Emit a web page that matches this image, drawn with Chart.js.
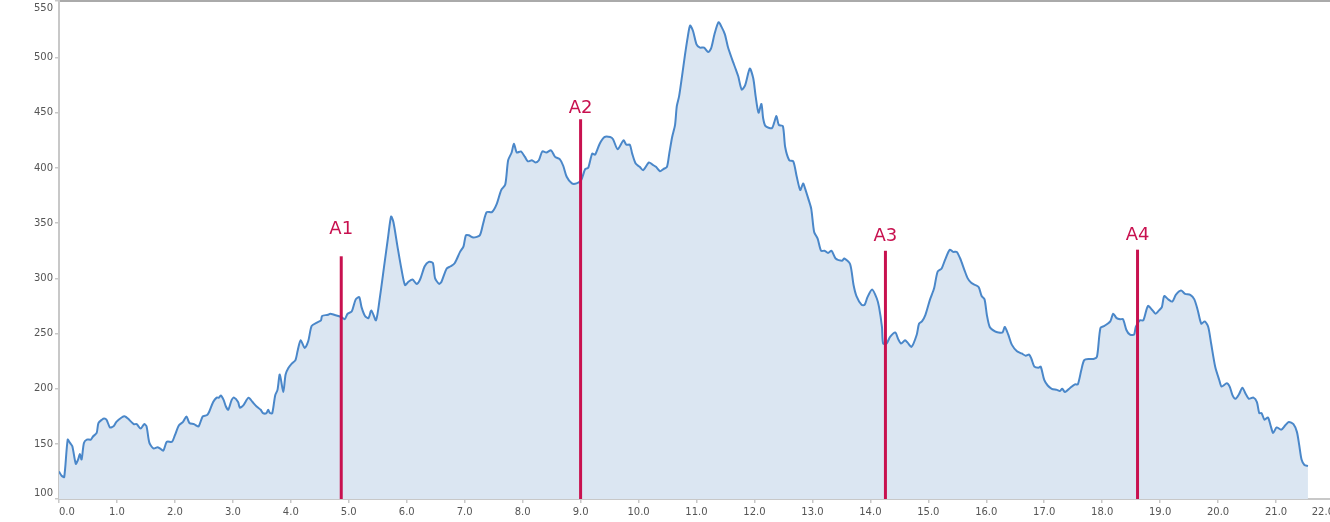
<!DOCTYPE html>
<html>
<head>
<meta charset="utf-8">
<script src="https://cdn.jsdelivr.net/npm/chart.js@4.4.1/dist/chart.umd.min.js"></script>
<style>
    html, body { margin: 0; padding: 0; overflow: hidden; background: #fff; }
    #wrap { width: 1334px; height: 522px; }
</style>
</head>
<body>
<div id="wrap"><canvas id="profile" width="1334" height="522"></canvas></div>
<script>
// distance along the route (km) and elevation (m)
const distanceKm = [
    0.00, 0.05, 0.09, 0.15, 0.19, 0.23, 0.29, 0.33, 0.36, 0.39, 0.43, 0.48, 0.55, 0.59, 0.65, 0.68, 0.74, 0.78, 0.82, 0.88,
    0.94, 0.99, 1.08, 1.14, 1.19, 1.29, 1.34, 1.41, 1.47, 1.51, 1.56, 1.63, 1.70, 1.74, 1.80, 1.86, 1.95, 2.00, 2.07, 2.14,
    2.20, 2.25, 2.33, 2.36, 2.41, 2.48, 2.55, 2.59, 2.66, 2.72, 2.76, 2.79, 2.84, 2.88, 2.92, 2.98, 3.02, 3.09, 3.12, 3.18,
    3.27, 3.34, 3.41, 3.48, 3.52, 3.58, 3.61, 3.64, 3.68, 3.73, 3.77, 3.81, 3.87, 3.91, 3.96, 4.02, 4.08, 4.12, 4.17, 4.24,
    4.30, 4.36, 4.45, 4.52, 4.54, 4.64, 4.68, 4.75, 4.87, 4.93, 4.98, 5.05, 5.12, 5.18, 5.22, 5.28, 5.34, 5.39, 5.47, 5.54,
    5.61, 5.68, 5.73, 5.77, 5.84, 5.91, 5.97, 6.03, 6.10, 6.17, 6.23, 6.31, 6.38, 6.45, 6.49, 6.56, 6.60, 6.69, 6.76, 6.83,
    6.92, 6.98, 7.02, 7.07, 7.15, 7.26, 7.32, 7.38, 7.47, 7.55, 7.63, 7.70, 7.75, 7.81, 7.85, 7.90, 7.97, 8.04, 8.09, 8.16,
    8.22, 8.28, 8.34, 8.41, 8.49, 8.56, 8.64, 8.70, 8.76, 8.85, 8.93, 9.01, 9.08, 9.13, 9.20, 9.25, 9.33, 9.41, 9.51, 9.56,
    9.64, 9.74, 9.79, 9.85, 9.89, 9.95, 10.02, 10.08, 10.18, 10.24, 10.30, 10.37, 10.43, 10.49, 10.53, 10.58, 10.63, 10.66, 10.70, 10.75,
    10.80, 10.85, 10.89, 10.94, 11.00, 11.06, 11.13, 11.20, 11.25, 11.31, 11.38, 11.43, 11.49, 11.54, 11.61, 11.68, 11.72, 11.78, 11.84, 11.92,
    11.98, 12.02, 12.07, 12.12, 12.15, 12.19, 12.30, 12.34, 12.38, 12.42, 12.49, 12.53, 12.60, 12.67, 12.73, 12.79, 12.84, 12.87, 12.93, 12.98,
    13.03, 13.09, 13.15, 13.21, 13.27, 13.33, 13.40, 13.51, 13.55, 13.65, 13.71, 13.76, 13.85, 13.90, 13.95, 14.03, 14.11, 14.15, 14.20, 14.22,
    14.28, 14.34, 14.43, 14.48, 14.53, 14.60, 14.64, 14.71, 14.80, 14.84, 14.89, 14.95, 15.03, 15.10, 15.16, 15.23, 15.29, 15.37, 15.43, 15.49,
    15.55, 15.62, 15.68, 15.74, 15.81, 15.87, 15.92, 15.97, 16.01, 16.06, 16.15, 16.21, 16.28, 16.32, 16.38, 16.44, 16.53, 16.61, 16.68, 16.74,
    16.78, 16.83, 16.90, 16.94, 17.00, 17.06, 17.13, 17.22, 17.27, 17.31, 17.36, 17.45, 17.53, 17.58, 17.64, 17.69, 17.78, 17.85, 17.91, 17.97,
    18.04, 18.14, 18.19, 18.25, 18.31, 18.36, 18.42, 18.48, 18.55, 18.58, 18.65, 18.71, 18.79, 18.87, 18.92, 18.98, 19.03, 19.07, 19.14, 19.21,
    19.27, 19.36, 19.43, 19.52, 19.59, 19.65, 19.71, 19.77, 19.83, 19.88, 19.95, 20.02, 20.06, 20.15, 20.20, 20.25, 20.30, 20.36, 20.42, 20.48,
    20.53, 20.61, 20.67, 20.71, 20.75, 20.80, 20.86, 20.91, 20.95, 21.01, 21.09, 21.16, 21.22, 21.30, 21.36, 21.40, 21.44, 21.49, 21.55
];
const elevation = [
    125, 121, 120, 154, 151, 148, 132, 136, 141, 136, 151, 154, 154, 157, 160, 169, 172, 173, 172, 165,
    166, 170, 174, 175, 173, 168, 168, 164, 168, 166, 151, 146, 147, 146, 144, 152, 152, 158, 167, 170,
    175, 169, 168, 167, 166, 175, 176, 179, 188, 192, 192, 194, 190, 184, 181, 190, 192, 188, 183, 185,
    192, 188, 184, 181, 178, 178, 181, 178, 178, 194, 199, 213, 197, 213, 219, 223, 226, 235, 244, 237,
    243, 257, 260, 262, 266, 267, 268, 267, 265, 263, 268, 270, 281, 283, 274, 266, 264, 271, 262, 284,
    311, 338, 356, 351, 329, 308, 294, 297, 299, 295, 299, 311, 315, 314, 300, 295, 297, 309, 311, 314,
    324, 329, 339, 339, 337, 339, 350, 360, 360, 367, 380, 385, 407, 414, 422, 414, 415, 410, 406, 407,
    405, 407, 415, 414, 416, 410, 408, 402, 392, 386, 386, 389, 399, 400, 413, 412, 422, 428, 428, 426,
    417, 425, 421, 421, 413, 404, 401, 398, 405, 403, 401, 397, 399, 401, 413, 428, 439, 456, 465, 483,
    502, 519, 529, 524, 512, 509, 509, 505, 508, 521, 532, 528, 521, 510, 499, 489, 483, 471, 475, 490,
    481, 465, 450, 458, 445, 438, 436, 441, 447, 439, 438, 419, 407, 406, 392, 380, 386, 382, 372, 363,
    342, 336, 325, 325, 323, 325, 318, 316, 318, 313, 294, 284, 276, 276, 283, 290, 282, 274, 256, 241,
    241, 247, 251, 245, 241, 244, 242, 238, 249, 259, 261, 267, 281, 291, 306, 309, 317, 326, 324, 324,
    318, 308, 300, 296, 294, 292, 284, 281, 267, 256, 252, 251, 251, 256, 249, 240, 234, 232, 230, 231,
    227, 220, 219, 220, 208, 203, 200, 199, 198, 200, 197, 201, 204, 204, 217, 226, 227, 227, 229, 255,
    257, 261, 268, 264, 263, 263, 253, 249, 249, 256, 262, 262, 275, 271, 268, 271, 274, 284, 281, 279,
    285, 289, 286, 285, 281, 271, 259, 261, 256, 241, 220, 208, 202, 205, 202, 194, 191, 195, 201, 195,
    191, 192, 188, 178, 178, 172, 174, 166, 160, 165, 163, 167, 170, 168, 161, 149, 136, 131, 130
];

// waypoints: position, top of the marker line, baseline of the name
const markerNames = ['A1', 'A2', 'A3', 'A4'];
const markerKm = [4.87, 9.0, 14.26, 18.61];
const markerTop = [320, 444, 325, 326];
const markerLabelElev = [340, 450, 334, 335];

// axes
const xTickValues = [0, 1, 2, 3, 4, 5, 6, 7, 8, 9, 10, 11, 12, 13, 14, 15, 16, 17, 18, 19, 20, 21, 22];
const yTickValues = [150, 200, 250, 300, 350, 400, 450, 500];
const yMin = 100.2;
const yMax = 551.2;

const COLORS = {
    line: '#4a87c9',
    fill: '#dbe6f2',
    marker: '#c8114f',
    axis: '#c8c8c8',
    text: '#555555'
};
const FONT = '"DejaVu Sans", Verdana, sans-serif';

const markerLabels = {
    id: 'markerLabels',
    afterDatasetsDraw(chart) {
        const { ctx, scales: { x, y } } = chart;
        ctx.save();
        ctx.font = `18px ${FONT}`;
        ctx.fillStyle = COLORS.marker;
        ctx.textAlign = 'center';
        ctx.textBaseline = 'alphabetic';
        for (let i = 0; i < markerNames.length; i++) {
            ctx.fillText(markerNames[i], x.getPixelForValue(markerKm[i]), y.getPixelForValue(markerLabelElev[i]));
        }
        ctx.restore();
    }
};

const profilePoints = distanceKm.map((d, i) => ({ x: d, y: elevation[i] }));

const markerSets = markerNames.map((name, i) => ({
    label: name,
    data: [{ x: markerKm[i], y: yMin }, { x: markerKm[i], y: markerTop[i] }],
    borderColor: COLORS.marker,
    borderWidth: 3,
    pointRadius: 0,
    fill: false,
    order: 1
}));

new Chart(document.getElementById('profile'), {
    type: 'line',
    data: {
        datasets: [{
            label: 'Elevation',
            data: profilePoints,
            borderColor: COLORS.line,
            backgroundColor: COLORS.fill,
            borderWidth: 2,
            pointRadius: 0,
            tension: 0.25,
            fill: 'start',
            order: 2
        }, ...markerSets]
    },
    options: {
        responsive: false,
        animation: false,
        layout: { padding: 0 },
        plugins: {
            legend: { display: false },
            tooltip: { enabled: false }
        },
        scales: {
            x: {
                type: 'linear',
                position: 'bottom',
                min: 0,
                max: 22,
                afterBuildTicks: (s) => { s.ticks = xTickValues.map(v => ({ value: v })); },
                afterFit: (s) => { s.height = 23; s.paddingLeft = 0; s.paddingRight = 0; },
                ticks: {
                    align: 'inner',
                    autoSkip: false,
                    maxRotation: 0,
                    padding: 3,
                    color: COLORS.text,
                    font: { family: FONT, size: 10 },
                    callback: (v) => Number(v).toFixed(1)
                },
                grid: { drawOnChartArea: false, tickLength: 4, color: COLORS.axis, lineWidth: 1.5 },
                border: { color: COLORS.axis, width: 2 }
            },
            xTop: {
                type: 'linear',
                position: 'top',
                display: true,
                min: 0,
                max: 22,
                afterFit: (s) => { s.height = 1; s.paddingLeft = 0; s.paddingRight = 0; },
                ticks: { display: false },
                grid: { drawOnChartArea: false, drawTicks: false },
                border: { color: '#aaaaaa', width: 2 }
            },
            y: {
                type: 'linear',
                min: yMin,
                max: yMax,
                afterBuildTicks: (s) => { s.ticks = [yMin, ...yTickValues, yMax].map(v => ({ value: v })); },
                afterFit: (s) => { s.width = 59; s.paddingTop = 0; s.paddingBottom = 0; },
                ticks: {
                    autoSkip: false,
                    padding: 2,
                    color: COLORS.text,
                    font: (ctx) => ({
                        family: FONT,
                        size: 10,
                        lineHeight: ctx.index === yTickValues.length + 1 ? 1.5 : 1.2
                    }),
                    callback: (v, i, arr) => {
                        const t = String(Math.round(v / 50) * 50);
                        if (i === 0) return [t, ''];
                        if (i === arr.length - 1) return ['', t];
                        return t;
                    }
                },
                grid: { drawOnChartArea: false, tickLength: 4, color: COLORS.axis, lineWidth: 1.5 },
                border: { color: COLORS.axis, width: 2 }
            }
        }
    },
    plugins: [markerLabels]
});
</script>
</body>
</html>
